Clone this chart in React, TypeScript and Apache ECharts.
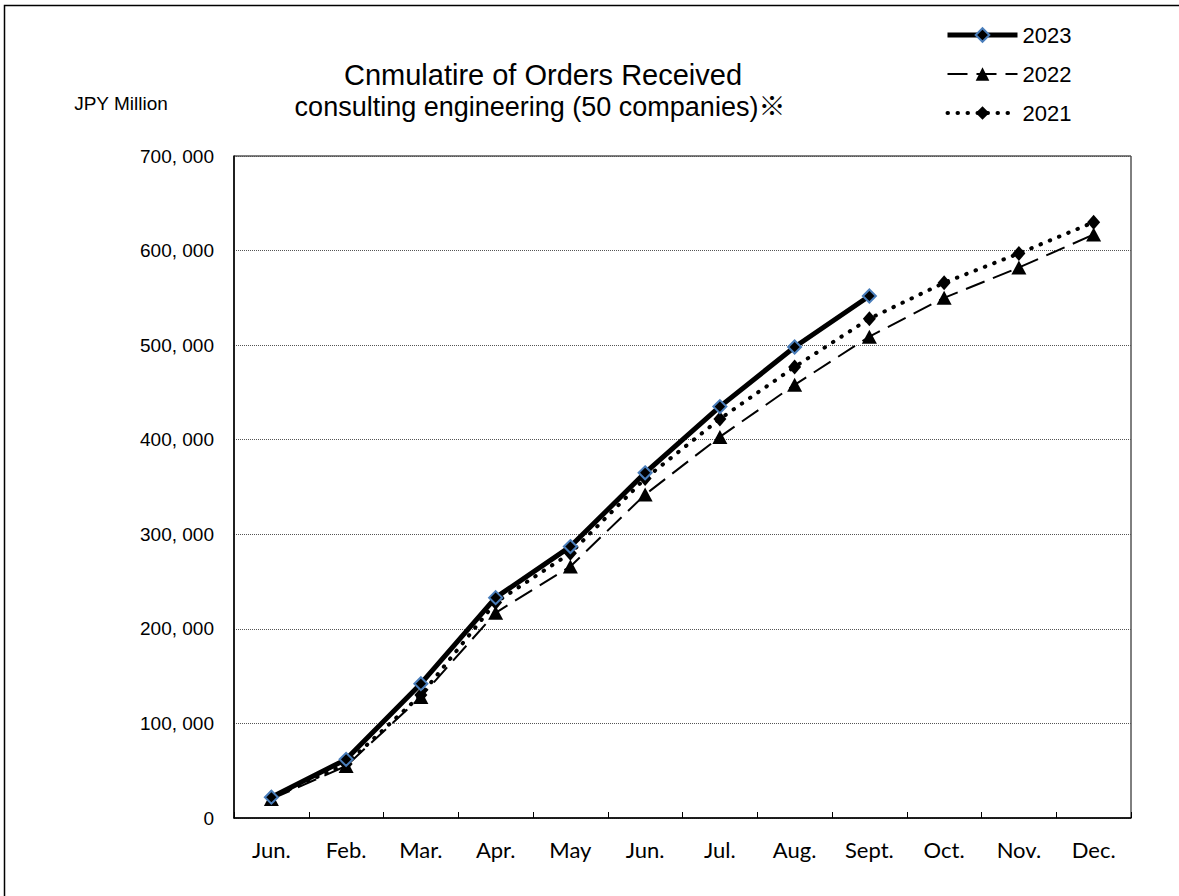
import React, { useEffect, useRef } from "react";
import * as echarts from "echarts";

const months = ["Jun.", "Feb.", "Mar.", "Apr.", "May", "Jun.", "Jul.", "Aug.", "Sept.", "Oct.", "Nov.", "Dec."];
const s2023 = [22000, 62000, 142000, 233000, 287000, 365000, 435000, 498000, 552000];
const s2022 = [20000, 55000, 128000, 217000, 266000, 342000, 403000, 458000, 509000, 550000, 582000, 617000];
const s2021 = [22000, 57000, 130000, 228000, 280000, 359000, 422000, 477000, 528000, 566000, 597000, 630000];
const titleText = "Cnmulatire of Orders Received";
const subtitleText = "consulting engineering (50 companies)※";
const unitText = "JPY Million";

const fmt = (v: number) => {
  if (v === 0) return "0";
  const s = String(v);
  return s.slice(0, s.length - 3) + ", " + s.slice(s.length - 3);
};

export default function App() {
  const ref = useRef<HTMLDivElement>(null);
  useEffect(() => {
    document.body.style.margin = "0";
    const chart = echarts.init(ref.current!, null, { renderer: "svg" });
    const narrow = "'Liberation Sans Narrow', 'Liberation Sans', Arial, sans-serif";
    chart.setOption({
      animation: false,
      backgroundColor: "#fff",
      graphic: [
        {
          type: "rect",
          shape: { x: 4.5, y: 5.5, width: 1300, height: 1000 },
          style: { fill: "none", stroke: "#000", lineWidth: 1.5 },
          silent: true,
        },
        {
          type: "text",
          x: 543,
          y: 75,
          style: { text: titleText, font: "29px 'Liberation Sans', Arial, sans-serif", fill: "#000", textAlign: "center", textVerticalAlign: "middle" },
        },
        {
          type: "text",
          x: 540,
          y: 107,
          style: { text: subtitleText, font: "27px 'Liberation Sans', 'Noto Sans CJK JP', Arial, sans-serif", fill: "#000", textAlign: "center", textVerticalAlign: "middle" },
        },
        {
          type: "text",
          x: 121,
          y: 103,
          style: { text: unitText, font: "19px 'Liberation Sans', Arial, sans-serif", fill: "#000", textAlign: "center", textVerticalAlign: "middle" },
        },
      ],
      legend: {
        orient: "vertical",
        left: 940,
        top: 19,
        itemWidth: 70,
        itemHeight: 17,
        itemGap: 17,
        data: ["2023", "2022", "2021"],
        lineStyle: { width: "inherit" },
        textStyle: { fontFamily: narrow, fontSize: 22, color: "#000" },
      },
      grid: {
        left: 234,
        right: 48,
        top: 156,
        bottom: 78,
        show: true,
        borderColor: "#000",
        borderWidth: 1,
      },
      xAxis: {
        type: "category",
        data: months,
        boundaryGap: true,
        axisLine: { lineStyle: { color: "#000", width: 1.5 } },
        axisTick: { show: true, inside: true, length: 6, lineStyle: { color: "#000" } },
        axisLabel: { color: "#000", fontFamily: "Lato, 'Open Sans', sans-serif", fontSize: 22, margin: 20, interval: 0 },
      },
      yAxis: {
        type: "value",
        min: 0,
        max: 700000,
        interval: 100000,
        axisLine: { show: true, lineStyle: { color: "#000", width: 1.5 } },
        axisTick: { show: false },
        axisLabel: { color: "#000", fontFamily: narrow, fontSize: 19, margin: 20, formatter: fmt },
        splitLine: { show: true, lineStyle: { color: "#555", type: "dotted", width: 1 } },
      },
      series: [
        {
          name: "2021",
          type: "line",
          data: s2021,
          symbol: "diamond",
          symbolSize: [13, 15],
          itemStyle: { color: "#000" },
          lineStyle: { color: "#000", width: 4, type: [0.5, 9.5], cap: "round" },
          z: 2,
        },
        {
          name: "2022",
          type: "line",
          data: s2022,
          symbol: "triangle",
          symbolSize: [15, 14],
          itemStyle: { color: "#000" },
          lineStyle: { color: "#000", width: 2, type: [20, 9] },
          z: 3,
        },
        {
          name: "2023",
          type: "line",
          data: s2023,
          symbol: "diamond",
          symbolSize: 13,
          itemStyle: { color: "#000", borderColor: "#4A7EBB", borderWidth: 2 },
          lineStyle: { color: "#000", width: 5 },
          z: 4,
        },
      ],
    });
    return () => chart.dispose();
  }, []);
  return <div ref={ref} style={{ width: 1179, height: 896 }} />;
}
